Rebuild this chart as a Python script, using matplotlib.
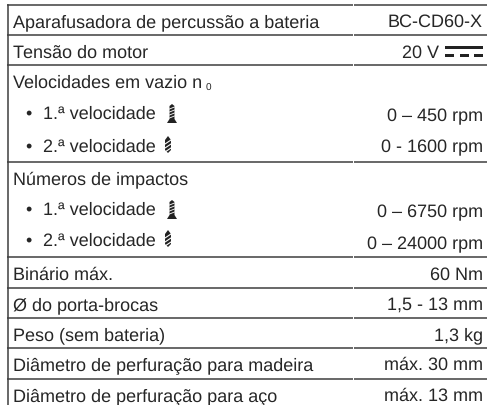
import matplotlib
matplotlib.use('Agg')
import matplotlib.pyplot as plt
from matplotlib.patches import Polygon, Rectangle

plt.rcParams['text.hinting'] = 'no_hinting'
plt.rcParams['text.hinting_factor'] = 1

W, H = 487, 406
TXT = '#262626'
LINE = '#3f3f3f'

# ── table content ─────────────────────────────────────────────────────────────
left_labels = ['Aparafusadora de percussão a bateria', 'Tensão do motor', 'Velocidades em vazio n',
               'Números de impactos', 'Binário máx.', 'Ø do porta-brocas', 'Peso (sem bateria)',
               'Diâmetro de perfuração para madeira', 'Diâmetro de perfuração para aço']
left_base = [27, 58, 88, 184, 280, 310, 340, 370, 401]

sub_labels = ['1.ª velocidade', '2.ª velocidade', '1.ª velocidade', '2.ª velocidade']
sub_base = [119, 152, 215, 246]
sub_icon = ['chuck', 'bit', 'chuck', 'bit']

right_labels = ['BC-CD60-X', '20 V', '0 – 450 rpm', '0 - 1600 rpm', '0 – 6750 rpm', '0 – 24000 rpm',
                '60 Nm', '1,5 - 13 mm', '1,3 kg', 'máx. 30 mm', 'máx. 13 mm']
right_base = [27, 58, 121, 152, 217, 249, 280, 310, 340, 370, 401]
right_edge = [483, 439, 483, 483, 483, 483, 483, 483, 483, 483, 483]

rule_y = [6, 36, 66, 163, 258, 289, 319, 349, 380]

fig = plt.figure(figsize=(W/100, H/100), dpi=100)
ax = fig.add_axes([0, 0, 1, 1])
ax.set_xlim(0, W)
ax.set_ylim(H, 0)
ax.axis('off')

FS = 13.2

for y in rule_y:
    ax.plot([7, 353], [y, y], color=LINE, lw=1.1, solid_capstyle='butt')
    ax.plot([354, W], [y, y], color=LINE, lw=1.1, solid_capstyle='butt')
ax.plot([7.5, 7.5], [6, H], color=LINE, lw=1.1)

def put(x, y, s, ha='left', fs=FS):
    ax.text(x, y, s, ha=ha, va='baseline', fontsize=fs, color=TXT, family='Liberation Sans')

for s, y in zip(left_labels, left_base):
    put(13, y, s)
put(205.5, 91, '0', fs=7.5)

def chuck(x, y):
    # drill with wide foot
    ax.add_patch(Polygon([(x-2.5, y-12), (x, y-14), (x+2.5, y-12), (x+2.5, y+1), (x+5, y+5), (x-5, y+5), (x-2.5, y+1)],
                         closed=True, fc='#222222', ec='none'))
    for dy in (10, 7, 4, 1):
        ax.plot([x-2.5, x+2.5], [y-dy+1, y-dy-1], color='white', lw=0.6)

def bit(x, y):
    ax.add_patch(Polygon([(x-3, y-11), (x, y-15), (x+3, y-11), (x+3, y-1), (x, y+2), (x-3, y-1)],
                         closed=True, fc='#222222', ec='none'))
    for dy in (9, 5, 1):
        ax.plot([x-3, x+3], [y-dy+2, y-dy-2], color='white', lw=0.8)

for s, y, kind in zip(sub_labels, sub_base, sub_icon):
    put(25, y, '•')
    put(43, y, s)
    if kind == 'chuck':
        chuck(172, y)
    else:
        bit(168, y)

for s, y, x in zip(right_labels, right_base, right_edge):
    put(x, y, s, ha='right')

# DC symbol next to 20 V
ax.add_patch(Rectangle((445, 47), 38, 3, fc='#222222', ec='none'))
for x0 in (445, 460, 474):
    ax.add_patch(Rectangle((x0, 55), 9, 3, fc='#222222', ec='none'))

fig.savefig('out.png', dpi=100)
